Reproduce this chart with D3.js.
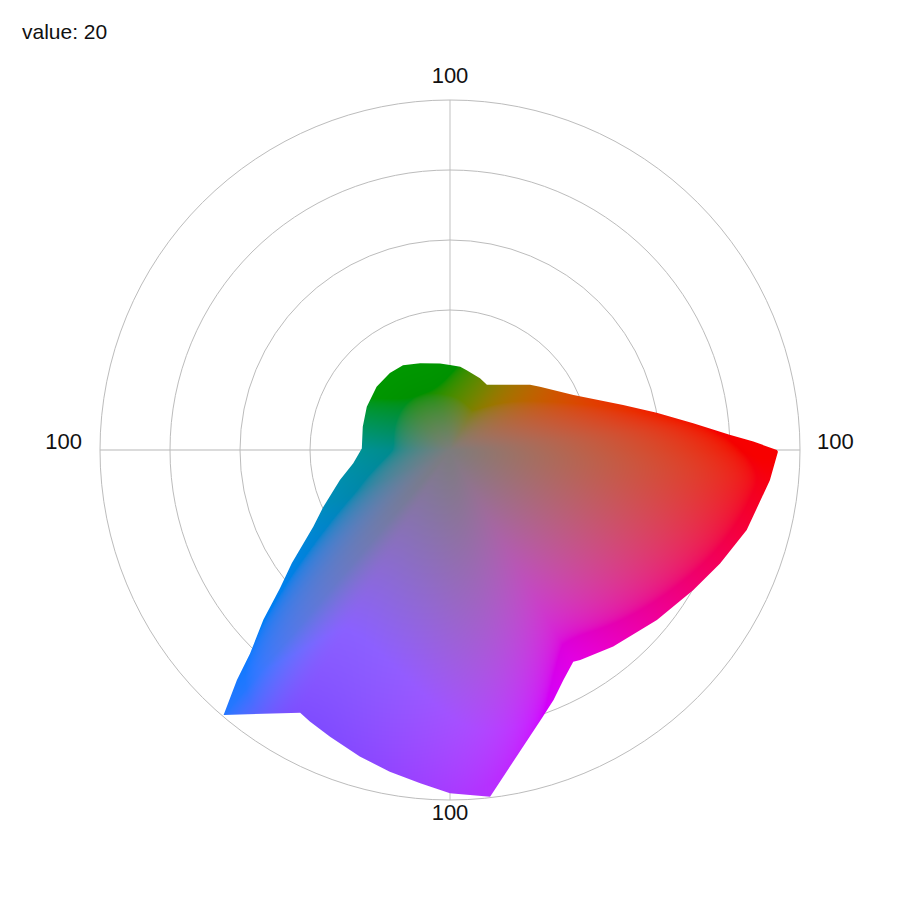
<!DOCTYPE html>
<html>
<head>
<meta charset="utf-8">
<script src="https://cdn.jsdelivr.net/npm/d3@7"></script>
<style>
  html, body { margin: 0; padding: 0; background: #fff; }
  svg { display: block; }
</style>
</head>
<body>
<svg id="chart" width="900" height="900"></svg>
<script>
// Outline of the polar area: angle in degrees clockwise from 12 o'clock, value on the 0-100 radial axis
const angles = [0, 7, 11.8, 22.7, 29.5, 37.4, 50.8, 54.9, 66, 75.4, 79.8, 83.7, 86.9, 88.4, 90, 90.3,
  95.4, 105.1, 112.8, 119.9, 129.4, 140.3, 148.2, 149.8, 153.8, 157.5, 161.1, 173.4,
  180, 185.1, 190.6, 196.4, 202.7, 207.3, 209.7, 220.5, 222.8, 224.5, 227.7, 230.9,
  234.4, 240.7, 245.8, 254.7, 262.2, 271, 285, 297.5, 310.8, 322, 331, 341, 353.4];
const values = [24.3, 24.0, 23.3, 22.2, 21.4, 23.5, 29.5, 31.4, 38.6, 51.1, 60.0, 69.9, 80.0, 86.7, 93.4, 93.7,
  91.8, 87.8, 83.7, 80.2, 76.5, 73.0, 70.6, 70.0, 73.3, 77.3, 81.0, 99.7,
  98.1, 95.6, 93.5, 91.3, 88.8, 87.3, 86.4, 99.6, 89.6, 81.5, 72.1, 62.6,
  55.6, 44.8, 39.7, 32.6, 27.9, 25.2, 25.8, 26.8, 27.7, 27.9, 27.7, 26.2, 24.9];
const ringValues = [20, 40, 60, 80, 100];
const axisAngles = [0, 90, 180, 270];
const axisLabels = ["100", "100", "100", "100"];
const valueLabel = "value: 20";

// colour styling: direction (deg, counter-clockwise from east) -> hue
const hueDirs = [0, 180, 204, 219, 229.5, 240, 360];
const hueVals = [0, 180, 192, 207, 214, 240, 360];
const LUM = 52;

const cx = 450, cy = 450, R = 350;
const rScale = d3.scaleLinear().domain([0, 100]).range([0, R]);
const aScale = d3.scaleLinear().domain([0, 360]).range([0, 2 * Math.PI]);
const hueScale = d3.scaleLinear().domain(hueDirs).range(hueVals);

const svg = d3.select("#chart");
const defs = svg.append("defs");

svg.append("text")
  .attr("x", 22).attr("y", 39)
  .attr("font-family", "Liberation Sans, Arial, sans-serif")
  .attr("font-size", 21)
  .attr("fill", "#111")
  .text(valueLabel);

const g = svg.append("g").attr("transform", `translate(${cx},${cy})`);

// grid
g.selectAll("line.axis").data(axisAngles).join("line")
  .attr("class", "axis")
  .attr("x1", 0).attr("y1", 0)
  .attr("x2", d => R * Math.sin(aScale(d)))
  .attr("y2", d => -R * Math.cos(aScale(d)))
  .attr("stroke", "#cfcfcf").attr("stroke-width", 1.3);

g.selectAll("circle.ring").data(ringValues).join("circle")
  .attr("class", "ring")
  .attr("r", d => rScale(d))
  .attr("fill", "none")
  .attr("stroke", "#bcbcbc").attr("stroke-width", 1);

// labels
const labelPos = {
  0:   {x: 0, y: -R - 17, anchor: "middle"},
  90:  {x: R + 17, y: -1, anchor: "start"},
  180: {x: 0, y: R + 20, anchor: "middle"},
  270: {x: -R - 18, y: -1, anchor: "end"}
};
g.selectAll("text.lab").data(axisAngles).join("text")
  .attr("class", "lab")
  .attr("x", d => labelPos[d].x)
  .attr("y", d => labelPos[d].y)
  .attr("text-anchor", d => labelPos[d].anchor)
  .attr("font-family", "Liberation Sans, Arial, sans-serif")
  .attr("font-size", 22)
  .attr("fill", "#111")
  .text((d, i) => axisLabels[i]);

// outline as clip path
const idx = d3.range(angles.length);
const outline = d3.lineRadial()
  .angle(i => aScale(angles[i]))
  .radius(i => rScale(values[i]))
  .curve(d3.curveLinearClosed);
defs.append("clipPath").attr("id", "shapeClip")
  .append("path").attr("d", outline(idx));

// cartesian points of outline
const pts = idx.map(i => [rScale(values[i]) * Math.sin(aScale(angles[i])),
                          -rScale(values[i]) * Math.cos(aScale(angles[i]))]);
function outlineRadius(deg) {
  const n = angles.length;
  let i0 = n - 1, i1 = 0;
  for (let i = 0; i < n - 1; i++) {
    if (deg >= angles[i] && deg < angles[i + 1]) { i0 = i; i1 = i + 1; break; }
  }
  const P = pts[i0], Q = pts[i1];
  const u = [Math.sin(aScale(deg)), -Math.cos(aScale(deg))];
  const d = [Q[0] - P[0], Q[1] - P[1]];
  const cross = (a, b) => a[0] * b[1] - a[1] * b[0];
  return cross(P, d) / cross(u, d);
}

// colour field rendered per pixel: grey centre -> hue near the outline, constant lightness
const NA = 3600;
const Rraw = new Float32Array(NA), tipA = new Float32Array(NA), tipB = new Float32Array(NA);
for (let k = 0; k < NA; k++) {
  const a = (k + 0.5) / 10;
  Rraw[k] = outlineRadius(a);
  const dir = ((90 - a) % 360 + 360) % 360;
  const lab = d3.lab(d3.hsl(hueScale(dir), 1, 0.5));
  tipA[k] = lab.a; tipB[k] = lab.b;
}
// smoothed normalisation radius (avoids hard rays at outline corners)
const W = 70;
const Rlut = new Float32Array(NA);
for (let k = 0; k < NA; k++) {
  let s = 0;
  for (let j = -W; j <= W; j++) s += Rraw[(k + j + NA) % NA];
  Rlut[k] = Math.min(Rraw[k] * 1.06, s / (2 * W + 1));
}
const S = 2 * R + 20, half = S / 2;
const canvas = document.createElement("canvas");
canvas.width = S; canvas.height = S;
const ctx = canvas.getContext("2d");
const img = ctx.createImageData(S, S);
const data = img.data;
for (let py = 0; py < S; py++) {
  for (let px = 0; px < S; px++) {
    const dx = px + 0.5 - half, dy = py + 0.5 - half;
    const r = Math.hypot(dx, dy);
    let a = Math.atan2(dx, -dy) * 180 / Math.PI;
    if (a < 0) a += 360;
    let k = Math.floor(a * 10); if (k >= NA) k = NA - 1;
    if (r > Rraw[k] + 3) continue;
    const t = Math.min(1, r / Rlut[k]);
    const c = d3.lab(LUM, tipA[k] * t, tipB[k] * t).rgb();
    const o = (py * S + px) * 4;
    data[o] = Math.max(0, Math.min(255, Math.round(c.r)));
    data[o + 1] = Math.max(0, Math.min(255, Math.round(c.g)));
    data[o + 2] = Math.max(0, Math.min(255, Math.round(c.b)));
    data[o + 3] = 255;
  }
}
ctx.putImageData(img, 0, 0);

g.append("image")
  .attr("href", canvas.toDataURL())
  .attr("x", -half).attr("y", -half)
  .attr("width", S).attr("height", S)
  .attr("clip-path", "url(#shapeClip)");
</script>
</body>
</html>
